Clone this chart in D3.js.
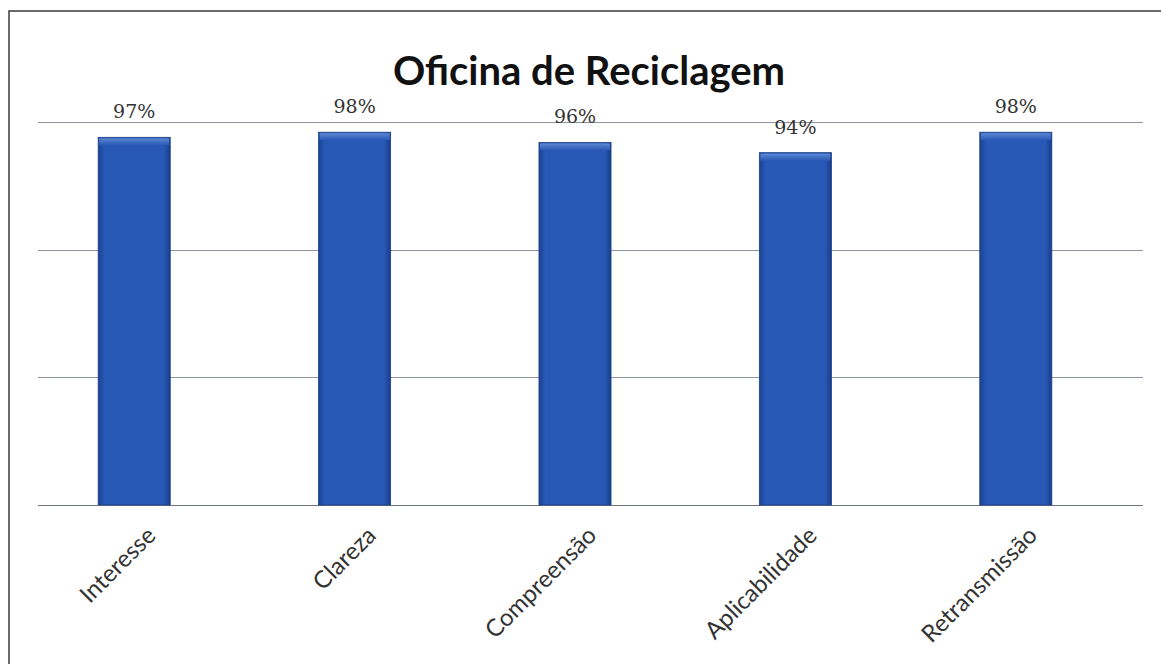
<!DOCTYPE html>
<html>
<head>
<meta charset="utf-8">
<script src="https://cdn.jsdelivr.net/npm/d3@7"></script>
<style>
  html, body { margin: 0; padding: 0; background: #fff; }
</style>
</head>
<body>
<svg id="chart" width="1161" height="664"></svg>
<script>
const categories = ["Interesse", "Clareza", "Compreensão", "Aplicabilidade", "Retransmissão"];
const values = [97, 98, 96, 94, 98];
const labels = ["97%", "98%", "96%", "94%", "98%"];
const gridTicks = [25, 50, 75, 100];

const svg = d3.select("#chart");
const margin = { top: 122, left: 38, right: 18, bottom: 159 };
const width = 1161;
const height = 664;

const x = d3.scaleBand()
  .domain(categories)
  .range([24, 1126])
  .paddingInner(0.673)
  .paddingOuter(0.3365);

const y = d3.scaleLinear()
  .domain([25, 100])
  .range([height - margin.bottom, margin.top]);

// frame (only top and left edges show in the scan)
svg.append("path")
  .attr("d", `M9,${height} L9,11 L${width},11`)
  .attr("fill", "none")
  .attr("stroke", "#3a3a3a")
  .attr("stroke-width", 1.5);

// bar gradient
const defs = svg.append("defs");
const grad = defs.append("linearGradient").attr("id", "barGrad")
  .attr("x1", "0%").attr("x2", "100%").attr("y1", "0%").attr("y2", "0%");
grad.append("stop").attr("offset", "0%").attr("stop-color", "#1a4390");
grad.append("stop").attr("offset", "9%").attr("stop-color", "#2858b6");
grad.append("stop").attr("offset", "91%").attr("stop-color", "#2858b6");
grad.append("stop").attr("offset", "100%").attr("stop-color", "#173d88");

const topGrad = defs.append("linearGradient").attr("id", "topGrad")
  .attr("x1", "0%").attr("x2", "0%").attr("y1", "0%").attr("y2", "100%");
topGrad.append("stop").attr("offset", "0%").attr("stop-color", "#5c87d2");
topGrad.append("stop").attr("offset", "100%").attr("stop-color", "#2858b6");

// gridlines
svg.append("g")
  .selectAll("line")
  .data(gridTicks)
  .join("line")
  .attr("x1", margin.left)
  .attr("x2", width - margin.right)
  .attr("y1", d => Math.round(y(d)) + 0.5)
  .attr("y2", d => Math.round(y(d)) + 0.5)
  .attr("stroke", d => d === 25 ? "#6e7380" : "#8d93a0")
  .attr("stroke-width", 1.2);

// bars
const bars = svg.append("g").selectAll("g")
  .data(values)
  .join("g");

bars.append("rect")
  .attr("x", (d, i) => x(categories[i]))
  .attr("y", d => y(d))
  .attr("width", x.bandwidth())
  .attr("height", d => y(25) - y(d))
  .attr("fill", "url(#barGrad)")
  .attr("stroke", "#1b3f86")
  .attr("stroke-width", 0.8);

bars.append("rect")
  .attr("x", (d, i) => x(categories[i]) + 1)
  .attr("y", d => y(d) + 1)
  .attr("width", x.bandwidth() - 2)
  .attr("height", 7)
  .attr("fill", "url(#topGrad)");

// value labels
svg.append("g").selectAll("text")
  .data(values)
  .join("text")
  .attr("x", (d, i) => x(categories[i]) + x.bandwidth() / 2)
  .attr("y", d => y(d) - 19)
  .attr("text-anchor", "middle")
  .attr("font-family", "'DejaVu Serif', 'Liberation Serif', serif")
  .attr("font-size", "19px")
  .attr("fill", "#333")
  .text((d, i) => labels[i]);

// category axis labels
svg.append("g").selectAll("text")
  .data(categories)
  .join("text")
  .attr("transform", d => `translate(${x(d) + x.bandwidth() / 2 + 17},${y(25) + 26}) rotate(-45)`)
  .attr("text-anchor", "end")
  .attr("dy", "0.35em")
  .attr("font-family", "Lato, 'Open Sans', sans-serif")
  .attr("font-size", "24px")
  .attr("fill", "#333")
  .text(d => d);

// title
svg.append("text")
  .attr("x", 589)
  .attr("y", 85)
  .attr("text-anchor", "middle")
  .attr("font-family", "Lato, 'Open Sans', sans-serif")
  .attr("font-weight", "bold")
  .attr("font-size", "40px")
  .attr("fill", "#111")
  .text("Oficina de Reciclagem");
</script>
</body>
</html>
